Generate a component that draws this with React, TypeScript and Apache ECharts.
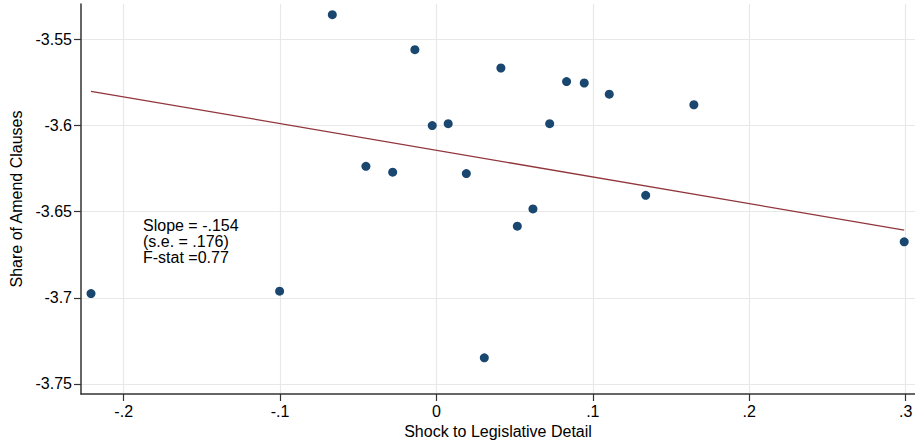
import React, { useEffect, useRef } from "react";
import * as echarts from "echarts";

const shockX = [
  -0.0666, -0.0138, 0.0412, 0.0832, 0.0945, 0.1105, 0.1646, -0.0027, 0.0075, 0.0724,
  -0.0451, -0.028, 0.0191, 0.1338, 0.0617, 0.0517, 0.2991, -0.2209, -0.1003, 0.0306,
];
const amendY = [
  -3.5359, -3.5562, -3.5668, -3.5747, -3.5755, -3.582, -3.5881, -3.6002, -3.5991, -3.5991,
  -3.6238, -3.6272, -3.628, -3.6406, -3.6485, -3.6585, -3.6676, -3.6976, -3.6962, -3.7348,
];
const fitX = [-0.2209, 0.2991];
const fitY = [-3.5803, -3.6608];

const xTicks = [-0.2, -0.1, 0, 0.1, 0.2, 0.3];
const xTickLabels = ["-.2", "-.1", "0", ".1", ".2", ".3"];
const yTicks = [-3.75, -3.7, -3.65, -3.6, -3.55];
const yTickLabels = ["-3.75", "-3.7", "-3.65", "-3.6", "-3.55"];

const annotation = ["Slope = -.154", "(s.e. = .176)", "F-stat =0.77"];

const FONT = "'Liberation Sans', Arial, sans-serif";

function labelFor(v: number, ticks: number[], labels: string[]) {
  for (let i = 0; i < ticks.length; i++) {
    if (Math.abs(ticks[i] - v) < 1e-6) return labels[i];
  }
  return "";
}

export default function App() {
  const ref = useRef<HTMLDivElement>(null);
  useEffect(() => {
    if (!ref.current) return;
    const chart = echarts.init(ref.current, undefined, { renderer: "svg" });
    chart.setOption({
      animation: false,
      backgroundColor: "#ffffff",
      grid: {
        left: 81,
        right: 0,
        top: 4,
        bottom: 46,
        containLabel: false,
        outerBoundsMode: "none",
      },
      xAxis: {
        type: "value",
        min: -0.2273,
        max: 0.306,
        name: "Shock to Legislative Detail",
        nameLocation: "middle",
        nameGap: 26,
        nameTextStyle: { fontFamily: FONT, fontSize: 16, color: "#000" },
        axisLine: { show: true, onZero: false, lineStyle: { color: "#333", width: 1.5 } },
        axisTick: { show: true, length: 7, customValues: xTicks, lineStyle: { color: "#333", width: 1.2 } },
        axisLabel: {
          customValues: xTicks,
          margin: 9,
          fontFamily: FONT,
          fontSize: 16,
          color: "#000",
          formatter: (v: number) => labelFor(v, xTicks, xTickLabels),
        },
        splitLine: { show: true, customValues: xTicks, lineStyle: { color: "#e8e8e8", width: 1.2 } },
      },
      yAxis: {
        type: "value",
        min: -3.7558,
        max: -3.5297,
        name: "Share of Amend Clauses",
        nameLocation: "middle",
        nameGap: 56,
        nameTextStyle: { fontFamily: FONT, fontSize: 16, color: "#000" },
        axisLine: { show: true, onZero: false, lineStyle: { color: "#333", width: 1.5 } },
        axisTick: { show: true, length: 7, customValues: yTicks, lineStyle: { color: "#333", width: 1.2 } },
        axisLabel: {
          customValues: yTicks,
          margin: 9,
          fontFamily: FONT,
          fontSize: 16,
          color: "#000",
          formatter: (v: number) => labelFor(v, yTicks, yTickLabels),
        },
        splitLine: { show: true, customValues: yTicks, lineStyle: { color: "#e8e8e8", width: 1.2 } },
      },
      series: [
        {
          type: "line",
          data: fitX.map((x, i) => [x, fitY[i]]),
          showSymbol: false,
          symbol: "none",
          lineStyle: { color: "#90353b", width: 1.3 },
          z: 2,
        },
        {
          type: "scatter",
          data: shockX.map((x, i) => [x, amendY[i]]),
          symbol: "circle",
          symbolSize: 9,
          itemStyle: { color: "#1a476f", opacity: 1 },
          z: 3,
        },
      ],
      graphic: [
        {
          type: "text",
          left: 143,
          top: 217,
          style: {
            text: annotation.join("\n"),
            fontFamily: FONT,
            fontSize: 16,
            lineHeight: 16.3,
            fill: "#000",
          },
        },
      ],
    });
    return () => chart.dispose();
  }, []);
  return (
    <div
      ref={ref}
      style={{ position: "fixed", left: 0, top: 0, width: 915, height: 440, background: "#fff" }}
    />
  );
}
